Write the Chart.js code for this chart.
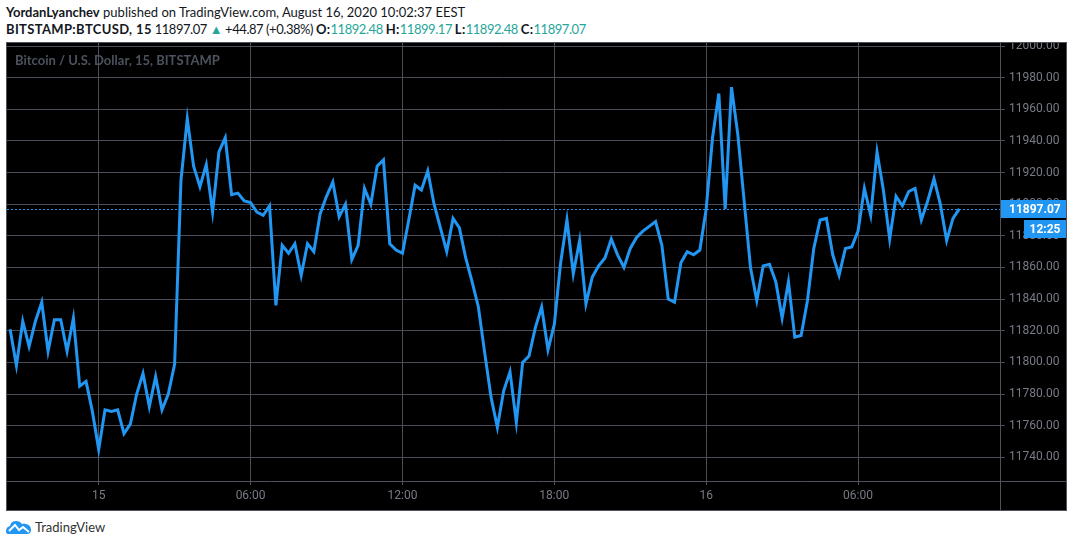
<!DOCTYPE html>
<html>
<head>
<meta charset="utf-8">
<script src="https://cdn.jsdelivr.net/npm/chart.js@4.4.1/dist/chart.umd.min.js"></script>
<style>
  body { margin: 0; width: 1073px; height: 547px; background: #fff; position: relative; overflow: hidden; font-family: Lato, "Noto Sans", sans-serif; }
  .hdr { position: absolute; left: 6px; font-size: 13px; color: #131722; white-space: nowrap; }
  .hdr b { font-weight: 700; }
  .l2 { letter-spacing: -0.45px; }
  .l2 b { letter-spacing: 0.35px; }
  .up { color: #26a69a; }
  #box { position: absolute; left: 6px; top: 42px; width: 1059px; height: 467px; border: 1px solid #50535e; background: #000; }
  #title { position: absolute; left: 8px; top: 9px; font: 700 13px Lato, sans-serif; color: #4c525e; white-space: nowrap; pointer-events: none; }
  #foot { position: absolute; left: 6px; top: 519px; font-size: 13px; color: #333; display: flex; align-items: center; gap: 3px; }
</style>
</head>
<body>
<div class="hdr" style="top:4px"><b>YordanLyanchev</b> published on TradingView.com, August 16, 2020 10:02:37 EEST</div>
<div class="hdr l2" style="top:21px"><b>BITSTAMP:BTCUSD, 15</b> 11897.07 <span class="up">&#9650;</span> +44.87 (+0.38%) <b>O:</b><span class="up">11892.48</span> <b>H:</b><span class="up">11899.17</span> <b>L:</b><span class="up">11892.48</span> <b>C:</b><span class="up">11897.07</span></div>

<div id="box">
  <canvas id="c"></canvas>
  <div id="title">Bitcoin / U.S. Dollar, 15, BITSTAMP</div>
</div>

<div id="foot">
  <svg width="26" height="16" viewBox="0 0 26 16">
    <path d="M2 15 Q0 15 0 12 Q0 8 4 7 Q5 2 10 2 Q14 2 16 5 Q18 4 20 5 Q25 6 25 11 Q25 15 21 15 Z" fill="#2196f3"/>
    <path d="M3 12 L9 6 L13 11 L17 8 L23 13" stroke="#fff" stroke-width="2" fill="none"/>
  </svg>
  <span>TradingView</span>
</div>

<script>
// 15-minute closes, 14 Aug 20:30 -> 16 Aug 10:00 (EEST)
const prices = [
  11821, 11798, 11826, 11810, 11826, 11838, 11807, 11827, 11827, 11807,
  11828, 11785, 11788, 11769, 11745, 11770, 11769, 11770, 11755, 11761,
  11780, 11793, 11772, 11791, 11770, 11780, 11799, 11915, 11954, 11924,
  11911, 11925, 11895, 11933, 11942, 11906, 11907, 11902, 11901, 11895,
  11893, 11899, 11836, 11874, 11869, 11875, 11855, 11875, 11870, 11894,
  11905, 11914, 11892, 11900, 11865, 11874, 11910, 11900, 11924, 11928,
  11875, 11871, 11869, 11890, 11912, 11909, 11921, 11900, 11885, 11870,
  11891, 11885, 11866, 11851, 11835, 11806, 11778, 11759, 11782, 11794,
  11762, 11800, 11804, 11822, 11835, 11808, 11824, 11863, 11890, 11856,
  11877, 11837, 11854, 11861, 11866, 11878, 11868, 11860, 11872, 11879,
  11883, 11886, 11889, 11874, 11840, 11838, 11863, 11870, 11868, 11871,
  11897, 11942, 11970, 11897, 11974, 11944, 11902, 11860, 11839, 11861,
  11862, 11851, 11828, 11851, 11816, 11817, 11839, 11872, 11890, 11891,
  11868, 11855, 11872, 11873, 11883, 11910, 11893, 11933, 11909, 11878,
  11905, 11899, 11908, 11910, 11890, 11902, 11916, 11900, 11877, 11891,
  11897.07
];
// bar index of each time-axis tick and its label
const timeTickIdx = [14, 38, 62, 86, 110, 134];
const timeTickLabels = ['15', '06:00', '12:00', '18:00', '16', '06:00'];
const priceTicks = [11740, 11760, 11780, 11800, 11820, 11840, 11860, 11880, 11900, 11920, 11940, 11960, 11980, 12000];
const countdown = '12:25';

const blue = '#2196f3';
const frame = '#50535e';
const grid = '#4a4d57';

const lastPrice = {
  id: 'lastPrice',
  beforeDatasetsDraw(chart) {
    const { ctx, chartArea: a, scales: { y } } = chart;
    const py = Math.round(y.getPixelForValue(prices[prices.length - 1])) + 0.5;
    ctx.save();
    ctx.strokeStyle = blue;
    ctx.lineWidth = 1;
    ctx.setLineDash([2, 2]);
    ctx.beginPath();
    ctx.moveTo(a.left, py);
    ctx.lineTo(a.right, py);
    ctx.stroke();
    ctx.restore();
  },
  afterDraw(chart) {
    const { ctx, chartArea: a, scales: { y }, width, height } = chart;
    ctx.save();
    // pane separators
    ctx.strokeStyle = frame;
    ctx.lineWidth = 1;
    ctx.beginPath();
    ctx.moveTo(0, a.bottom + 0.5); ctx.lineTo(width, a.bottom + 0.5);
    ctx.moveTo(a.right + 0.5, 0); ctx.lineTo(a.right + 0.5, height);
    ctx.stroke();
    // last price + countdown badges
    const last = prices[prices.length - 1];
    const py = Math.round(y.getPixelForValue(last));
    ctx.fillStyle = blue;
    ctx.fillRect(a.right + 1, py - 9, width - a.right - 1, 18);
    ctx.fillRect(width - 42, py + 11, 42, 18);
    ctx.fillStyle = '#fff';
    ctx.font = '700 12px Roboto';
    ctx.textBaseline = 'middle';
    ctx.textAlign = 'left';
    ctx.fillText(last.toFixed(2), a.right + 9, py + 0.5);
    ctx.textAlign = 'center';
    ctx.fillText(countdown, width - 21, py + 20.5);
    ctx.restore();
  }
};

new Chart(document.getElementById('c'), {
  type: 'line',
  data: {
    datasets: [{
      data: prices.map((v, i) => ({ x: i, y: v })),
      borderColor: blue,
      borderWidth: 3,
      pointRadius: 0,
      tension: 0,
      fill: false
    }]
  },
  options: {
    responsive: true,
    maintainAspectRatio: false,
    animation: false,
    layout: { padding: 0 },
    plugins: { legend: { display: false }, tooltip: { enabled: false } },
    scales: {
      x: {
        type: 'linear',
        min: -0.49,
        max: 156.43,
        afterBuildTicks: s => { s.ticks = timeTickIdx.map(v => ({ value: v })); },
        afterFit: s => { s.height = 29; s.paddingLeft = 0; s.paddingRight = 0; },
        grid: { color: grid, tickLength: 4, drawTicks: true },
        border: { display: false },
        ticks: {
          autoSkip: false,
          maxRotation: 0,
          padding: 4,
          color: '#787b86',
          font: { family: 'Roboto', size: 12 },
          callback: (v, i) => timeTickLabels[i]
        }
      },
      y: {
        position: 'right',
        min: 11725.0,
        max: 12001.9,
        afterBuildTicks: s => { s.ticks = priceTicks.map(v => ({ value: v })); },
        afterFit: s => { s.width = 66; s.paddingTop = 0; s.paddingBottom = 0; },
        grid: { color: grid, tickLength: 5, drawTicks: true },
        border: { display: false },
        ticks: {
          padding: 4,
          color: '#787b86',
          font: { family: 'Roboto', size: 12 },
          callback: v => v.toFixed(2)
        }
      }
    }
  },
  plugins: [lastPrice]
});
</script>
</body>
</html>
